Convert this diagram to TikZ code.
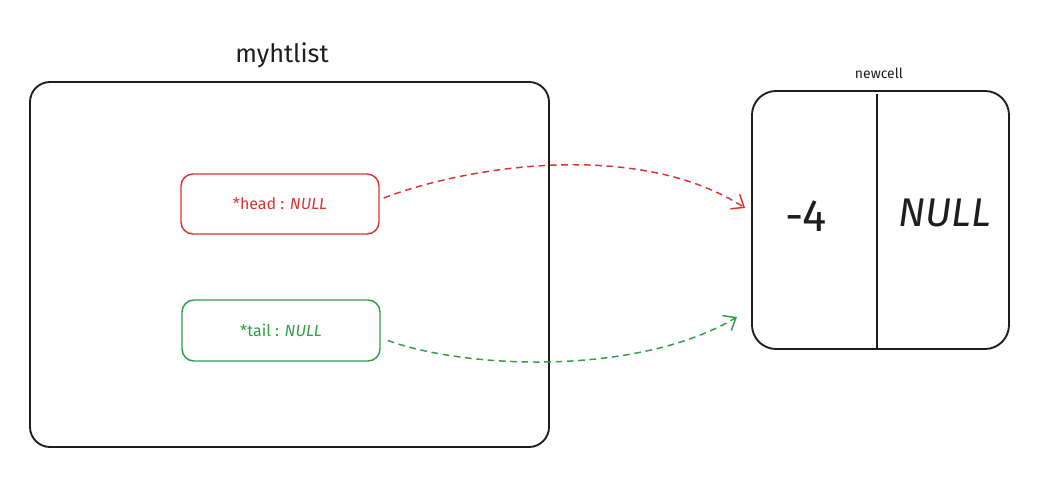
\documentclass[tikz,border=0pt]{standalone}
\usepackage{fontspec}
\setmainfont{Fira Sans}
\usetikzlibrary{arrows.meta}
\definecolor{exred}{HTML}{E03131}
\definecolor{exgreen}{HTML}{2F9E44}
\definecolor{exblack}{HTML}{1E1E1E}
\tikzset{
  bigbox/.style={draw=exblack, line width=1.4pt, rounded corners=15pt},
  fieldbox/.style={line width=1.1pt, rounded corners=9pt},
  link/.style={dash pattern=on 5pt off 3.5pt, line width=1.1pt, -{Straight Barb[length=8pt,width=13pt]}},
}
\begin{document}
\begin{tikzpicture}[x=0.75pt,y=-0.75pt]
\useasboundingbox (0,0) rectangle (1046,502);
% outer list box
\draw[bigbox] (30,82) rectangle (549,447);
\node[font=\fontsize{19}{21}\selectfont, text=exblack] (title) at (282,55) {myhtlist};
% head / tail
\node[fieldbox, draw=exred, minimum width=148.5pt, minimum height=45pt, text=exred,
  font=\fontsize{12}{14}\selectfont] (head) at (280,204) {*head : \textit{NULL}};
\node[fieldbox, draw=exgreen, minimum width=148.5pt, minimum height=45.75pt, text=exgreen,
  font=\fontsize{12}{14}\selectfont] (tail) at (281,330.5) {*tail : \textit{NULL}};
% newcell
\draw[bigbox, rounded corners=18pt] (752,91) rectangle (1009,349);
\draw[draw=exblack, line width=1.4pt] (877,94) -- (877,348);
\coordinate (cellL) at (745,208);
\coordinate (cellL2) at (737,317);
\node[font=\fontsize{10.5}{12}\selectfont, text=exblack] (nclabel) at (879,73) {newcell};
\node[font=\fontsize{34}{38}\selectfont, text=exblack] (val) at (806,216) {-4};
\node[font=\fontsize{30}{34}\selectfont, text=exblack] (nxt) at (945,213) {\textit{NULL}};
% links
\draw[link, draw=exred] (head.east) ++(4,-6) .. controls (470,165) and (640,140) .. (cellL);
\draw[link, draw=exgreen] (tail.east) ++(7,10) .. controls (470,370) and (640,375) .. (cellL2);
\end{tikzpicture}
\end{document}
